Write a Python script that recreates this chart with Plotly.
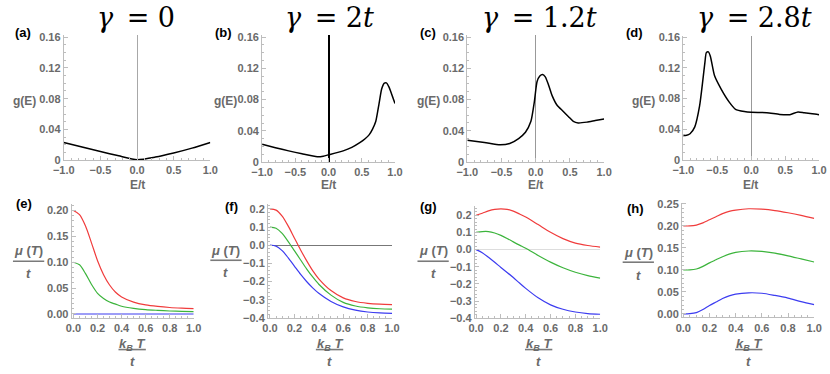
import plotly.graph_objects as go

# ---- top row: g(E) vs E/t ----
e_a = [-1.0, -0.75, -0.5, -0.25, 0.0, 0.25, 0.5, 0.75, 1.0]
g_a = [0.023, 0.0172, 0.0115, 0.0058, 0.0008, 0.0042, 0.0095, 0.0158, 0.0232]

e_b = [-1.0, -0.8, -0.6, -0.4, -0.17, -0.08, 0.0, 0.22, 0.35, 0.47, 0.55, 0.61,
       0.66, 0.71, 0.76, 0.8, 0.84, 0.87, 0.91, 0.95, 1.0]
g_b = [0.0229, 0.0186, 0.0145, 0.0108, 0.0071, 0.0078, 0.0095, 0.0145, 0.019, 0.025,
       0.030, 0.035, 0.042, 0.052, 0.075, 0.094, 0.101, 0.1015, 0.096, 0.087, 0.075]

e_c = [-1.0, -0.75, -0.52, -0.38, -0.25, -0.15, -0.07, -0.02, 0.02, 0.06, 0.1, 0.14,
       0.19, 0.24, 0.31, 0.4, 0.48, 0.55, 0.62, 0.75, 0.87, 1.0]
g_c = [0.0278, 0.025, 0.022, 0.0237, 0.030, 0.038, 0.052, 0.077, 0.103, 0.110, 0.112,
       0.109, 0.098, 0.085, 0.073, 0.065, 0.058, 0.052, 0.050, 0.051, 0.053, 0.055]

e_d = [-1.0, -0.95, -0.9, -0.83, -0.76, -0.71, -0.68, -0.66, -0.63, -0.6, -0.54, -0.44,
       -0.32, -0.23, -0.1, 0.0, 0.23, 0.42, 0.57, 0.69, 0.78, 0.9, 1.0]
g_d = [0.032, 0.032, 0.034, 0.043, 0.07, 0.105, 0.128, 0.14, 0.141, 0.135, 0.110, 0.092,
       0.075, 0.066, 0.063, 0.062, 0.0615, 0.0592, 0.059, 0.0625, 0.0615, 0.060, 0.059]

# ---- bottom row: mu(T)/t vs kB T/t ----
temps = [0.0, 0.05, 0.1, 0.15, 0.2, 0.25, 0.3, 0.35, 0.4, 0.5, 0.6, 0.7, 0.8, 0.9, 1.0]

mu_e_red = [0.200, 0.192, 0.170, 0.137, 0.103, 0.076, 0.056, 0.042, 0.033, 0.023, 0.0175, 0.0145, 0.0125, 0.0113, 0.0105]
mu_e_green = [0.100, 0.095, 0.078, 0.057, 0.040, 0.030, 0.023, 0.019, 0.015, 0.011, 0.0085, 0.007, 0.0058, 0.005, 0.0044]
mu_e_blue = [0.0, 0.0, 0.0, 0.0, 0.0, 0.0, 0.0, 0.0, 0.0, 0.0, 0.0, 0.0, 0.0, 0.0, 0.0]

mu_f_red = [0.200, 0.193, 0.160, 0.105, 0.040, -0.025, -0.085, -0.140, -0.185, -0.250, -0.290, -0.310, -0.320, -0.325, -0.327]
mu_f_green = [0.100, 0.093, 0.065, 0.020, -0.030, -0.080, -0.130, -0.175, -0.215, -0.275, -0.315, -0.335, -0.345, -0.350, -0.352]
mu_f_blue = [0.0, -0.005, -0.030, -0.070, -0.115, -0.160, -0.200, -0.235, -0.265, -0.310, -0.340, -0.358, -0.368, -0.373, -0.375]

mu_g_red = [0.200, 0.212, 0.226, 0.235, 0.238, 0.235, 0.224, 0.208, 0.190, 0.146, 0.101, 0.064, 0.038, 0.024, 0.015]
mu_g_green = [0.100, 0.105, 0.105, 0.097, 0.083, 0.065, 0.045, 0.026, 0.008, -0.034, -0.073, -0.106, -0.132, -0.152, -0.166]
mu_g_blue = [0.0, -0.018, -0.045, -0.074, -0.104, -0.133, -0.163, -0.195, -0.226, -0.281, -0.322, -0.348, -0.364, -0.373, -0.377]

mu_h_red = [0.200, 0.200, 0.202, 0.207, 0.214, 0.221, 0.228, 0.233, 0.236, 0.239, 0.238, 0.235, 0.230, 0.224, 0.217]
mu_h_green = [0.100, 0.100, 0.102, 0.108, 0.116, 0.123, 0.130, 0.136, 0.140, 0.143, 0.142, 0.138, 0.132, 0.125, 0.118]
mu_h_blue = [0.0, 0.0005, 0.003, 0.010, 0.019, 0.027, 0.035, 0.041, 0.045, 0.048, 0.047, 0.042, 0.036, 0.028, 0.021]

titles = ["<i>γ</i>\u2002= 0", "<i>γ</i>\u2002= 2<i>t</i>",
          "<i>γ</i>\u2002= 1.2<i>t</i>", "<i>γ</i>\u2002= 2.8<i>t</i>"]

W, H = 830, 374
GRAY = "#6a6a6a"
AXC = "#bdbdbd"
RED, GREEN, BLUE = "#f03c3c", "#3cb43c", "#3c3cf0"


def px(x0, x1):
    return [x0 / W, x1 / W]


def py(ybot, ytop):
    return [1 - ybot / H, 1 - ytop / H]


fig = go.Figure()

top = [(e_a, g_a), (e_b, g_b), (e_c, g_c), (e_d, g_d)]
for i, (e, g) in enumerate(top):
    fig.add_trace(go.Scatter(x=e, y=g, mode="lines", line=dict(color="black", width=1.5, shape="spline", smoothing=0.6),
                             xaxis="x%d" % (i + 1), yaxis="y%d" % (i + 1), showlegend=False))

bottom = [(mu_e_red, mu_e_green, mu_e_blue), (mu_f_red, mu_f_green, mu_f_blue),
          (mu_g_red, mu_g_green, mu_g_blue), (mu_h_red, mu_h_green, mu_h_blue)]
for i, series in enumerate(bottom):
    for vals, col in zip(series, [RED, GREEN, BLUE]):
        fig.add_trace(go.Scatter(x=temps, y=vals, mode="lines", line=dict(color=col, width=1.2, shape="spline", smoothing=0.8),
                                 xaxis="x%d" % (i + 5), yaxis="y%d" % (i + 5), showlegend=False))

tickfont = dict(family="Liberation Sans", size=11, color=GRAY, weight="bold")


def xax(dom, rng, tv, tt, anchor, zeroline=False, zc=AXC, zw=1, minor_dtick=0.1):
    return dict(domain=dom, range=rng, anchor=anchor, showline=True, linecolor=AXC, linewidth=1,
                showgrid=False, zeroline=zeroline, zerolinecolor=zc, zerolinewidth=zw,
                tickvals=tv, ticktext=tt, ticks="inside", ticklen=4, tickcolor=AXC, tickfont=tickfont,
                minor=dict(ticks="inside", ticklen=2, tickcolor=AXC, dtick=minor_dtick, showgrid=False))


def yax(dom, rng, tv, tt, anchor, zeroline=False, zc=AXC, zw=1, minor_dtick=0.01):
    return dict(domain=dom, range=rng, anchor=anchor, showline=True, linecolor=AXC, linewidth=1,
                showgrid=False, zeroline=zeroline, zerolinecolor=zc, zerolinewidth=zw,
                tickvals=tv, ticktext=tt, ticks="inside", ticklen=4, tickcolor=AXC, tickfont=tickfont,
                minor=dict(ticks="inside", ticklen=2, tickcolor=AXC, dtick=minor_dtick, showgrid=False))


ev = [-1.0, -0.5, 0.0, 0.5, 1.0]
et = ["\u22121.0", "\u22120.5", "0.0", "0.5", "1.0"]
gv = [0, 0.04, 0.08, 0.12, 0.16]
gt = ["0", "0.04", "0.08", "0.12", "0.16"]
tv = [0, 0.2, 0.4, 0.6, 0.8, 1.0]
tt = ["0.0", "0.2", "0.4", "0.6", "0.8", "1.0"]

layout = {}
top_x = [px(54, 204), px(257, 393), px(467, 607), px(688, 827)]
top_y = [py(160, 31.4), py(162, 31.4), py(161.7, 31.4), py(159.5, 31.7)]
zcol = ["#a8a8a8", "black", "#999999", "#999999"]
zwid = [1, 1.6, 1, 1]
for i in range(4):
    layout["xaxis%d" % (i + 1)] = xax(top_x[i], [-1.0, 1.0], ev, et, "y%d" % (i + 1),
                                      zeroline=True, zc=zcol[i], zw=zwid[i], minor_dtick=0.1)
    layout["yaxis%d" % (i + 1)] = yax(top_y[i], [0, 0.162], gv, gt, "x%d" % (i + 1), minor_dtick=0.01)

bot_x = [(px(62, 187), [-0.016, 1.0]), (px(263, 390), [-0.016, 1.0]),
         (px(474.7, 603), [-0.01, 1.0]), (px(686.7, 822), [-0.01, 1.0])]
bot_y = [(py(322.6, 204.8), [-0.008, 0.213], [0, 0.05, 0.1, 0.15, 0.2], ["0.00", "0.05", "0.10", "0.15", "0.20"], False, AXC, 1, 0.01),
         (py(322.3, 205), [-0.4, 0.227], [-0.4, -0.3, -0.2, -0.1, 0, 0.1, 0.2],
          ["\u22120.4", "\u22120.3", "\u22120.2", "\u22120.1", "0.0", "0.1", "0.2"], True, "#777777", 1.3, 0.02),
         (py(322.7, 206.6), [-0.4, 0.257], [-0.4, -0.3, -0.2, -0.1, 0, 0.1, 0.2],
          ["\u22120.4", "\u22120.3", "\u22120.2", "\u22120.1", "0.0", "0.1", "0.2"], True, "#dddddd", 1, 0.02),
         (py(321.9, 203.6), [-0.008, 0.253], [0, 0.05, 0.1, 0.15, 0.2, 0.25],
          ["0.00", "0.05", "0.10", "0.15", "0.20", "0.25"], False, AXC, 1, 0.01)]
for i in range(4):
    xd, xr = bot_x[i]
    yd, yr, yv, yt, zl, zc, zw, md = bot_y[i]
    layout["xaxis%d" % (i + 5)] = xax(xd, xr, tv, tt, "y%d" % (i + 5), minor_dtick=0.05)
    layout["yaxis%d" % (i + 5)] = yax(yd, yr, yv, yt, "x%d" % (i + 5), zeroline=zl, zc=zc, zw=zw, minor_dtick=md)

annotations = []
shapes = []


def note(text, x, y, size=11, color=GRAY, xanchor="center", family="Liberation Sans"):
    annotations.append(dict(text=text, x=x / W, y=1 - y / H, xref="paper", yref="paper", showarrow=False,
                            xanchor=xanchor, yanchor="middle", font=dict(family=family, size=size, color=color)))


# titles
for t, lx in zip(titles, [86, 278, 480, 700]):
    note(t, lx, 13, size=27, color="black", family="DejaVu Serif", xanchor="left")

# panel letters
for lab, x, y in [("(a)", 2, 28), ("(b)", 207, 28), ("(c)", 417, 28), ("(d)", 627, 28),
                  ("(e)", 3, 205), ("(f)", 217, 208), ("(g)", 417, 208), ("(h)", 628, 210)]:
    note("<b>%s</b>" % lab, x, y, size=13, color="black", xanchor="left")

# g(E) and E/t labels
for gx, ex in [(28, 129), (233, 325), (441, 537), (661, 757)]:
    note("<b>g(E)</b>", gx, 99, size=12, xanchor="right")
    note("<b>E/t</b>", ex, 185, size=12)

# mu(T)/t fractions
for cx, yn, yl, yd in [(18, 253, 264, 277), (220, 253, 263, 276), (432, 253, 264, 277), (642, 255, 265, 279)]:
    note("<b><i>μ</i> (<i>T</i>)</b>", cx, yn, size=13)
    note("<b><i>t</i></b>", cx, yd, size=13)
    shapes.append(dict(type="line", xref="paper", yref="paper", x0=(cx - 16) / W, x1=(cx + 16) / W,
                       y0=1 - yl / H, y1=1 - yl / H, line=dict(color="#7a7a7a", width=1.6)))

# kB T / t fractions
for cx in [124, 326, 540, 755]:
    note("<b><i>k<sub>B</sub></i> <i>T</i></b>", cx, 350, size=13)
    note("<b><i>t</i></b>", cx, 367, size=13)
    shapes.append(dict(type="line", xref="paper", yref="paper", x0=(cx - 14) / W, x1=(cx + 14) / W,
                       y0=1 - 355 / H, y1=1 - 355 / H, line=dict(color="#7a7a7a", width=1.6)))

fig.update_layout(width=W, height=H, margin=dict(l=0, r=0, t=0, b=0),
                  paper_bgcolor="white", plot_bgcolor="white",
                  annotations=annotations, shapes=shapes, **layout)

fig.write_html("out.html", config={"displayModeBar": False},
               post_script="document.body.style.margin='0px';")
